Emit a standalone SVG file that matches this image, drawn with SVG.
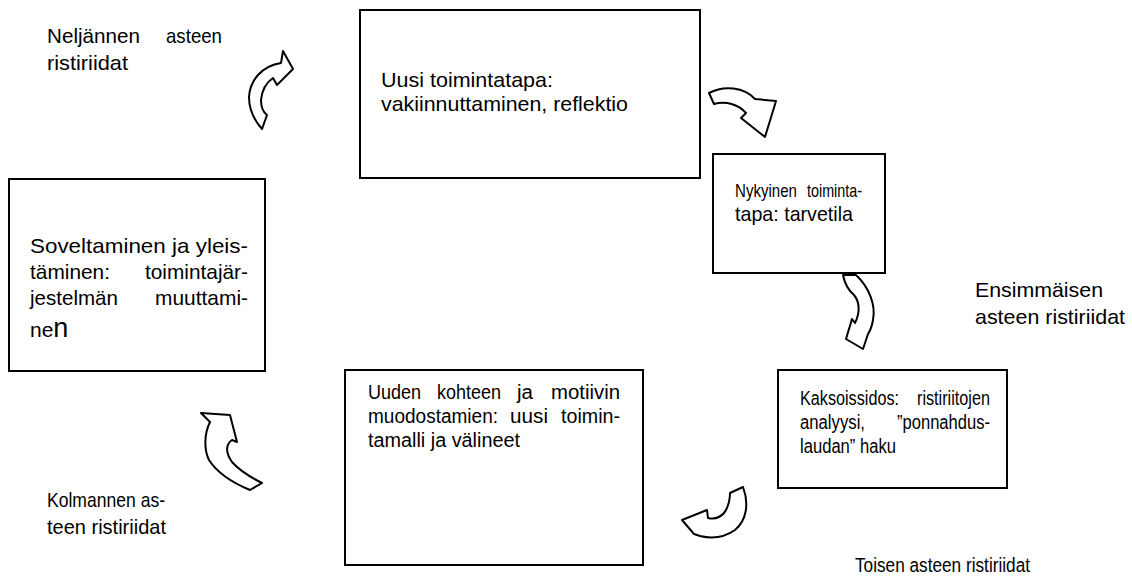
<svg xmlns="http://www.w3.org/2000/svg" width="1132" height="579" viewBox="0 0 1132 579">
  <style>
    .box { fill: #fff; stroke: #000; stroke-width: 2; }
    .arrow { fill: #fff; stroke: #000; stroke-width: 2; stroke-linejoin: round; }
    text { font-family: "Liberation Sans", Arial, sans-serif; font-size: 21px; fill: #000; }
    .sm { font-size: 20px; }
    .xs { font-size: 19px; }
  </style>
  <rect width="1132" height="579" fill="#fff"/>

  <!-- cycle steps; word runs of justified lines are placed one by one -->
  <g id="uusi-toimintatapa">
    <rect class="box" x="360" y="10" width="340" height="168"/>
    <text x="381" y="87" textLength="172" lengthAdjust="spacingAndGlyphs">Uusi toimintatapa:</text>
    <text x="381" y="111" textLength="247" lengthAdjust="spacingAndGlyphs">vakiinnuttaminen, reflektio</text>
  </g>

  <g id="nykyinen-toimintatapa">
    <rect class="box" x="713" y="154" width="172" height="119"/>
    <text class="xs" x="735" y="197" textLength="62" lengthAdjust="spacingAndGlyphs">Nykyinen</text>
    <text class="xs" x="807" y="197" textLength="55" lengthAdjust="spacingAndGlyphs">toiminta-</text>
    <text x="735" y="221" textLength="118" lengthAdjust="spacingAndGlyphs">tapa: tarvetila</text>
  </g>

  <g id="kaksoissidos">
    <rect class="box" x="778" y="370" width="229" height="118"/>
    <text class="sm" x="800" y="405" textLength="99" lengthAdjust="spacingAndGlyphs">Kaksoissidos:</text>
    <text class="sm" x="917" y="405" textLength="73" lengthAdjust="spacingAndGlyphs">ristiriitojen</text>
    <text class="sm" x="800" y="429" textLength="65" lengthAdjust="spacingAndGlyphs">analyysi,</text>
    <text class="sm" x="897" y="429" textLength="93" lengthAdjust="spacingAndGlyphs">”ponnahdus-</text>
    <text class="sm" x="800" y="453" textLength="96" lengthAdjust="spacingAndGlyphs">laudan” haku</text>
  </g>

  <g id="uuden-kohteen">
    <rect class="box" x="345" y="370" width="298" height="195"/>
    <text class="sm" x="368" y="399" textLength="53" lengthAdjust="spacingAndGlyphs">Uuden</text>
    <text class="sm" x="437" y="399" textLength="64" lengthAdjust="spacingAndGlyphs">kohteen</text>
    <text class="sm" x="517" y="399" textLength="16" lengthAdjust="spacingAndGlyphs">ja</text>
    <text class="sm" x="551" y="399" textLength="69" lengthAdjust="spacingAndGlyphs">motiivin</text>
    <text class="sm" x="368" y="423" textLength="130" lengthAdjust="spacingAndGlyphs">muodostamien:</text>
    <text class="sm" x="510" y="423" textLength="38" lengthAdjust="spacingAndGlyphs">uusi</text>
    <text class="sm" x="561" y="423" textLength="59" lengthAdjust="spacingAndGlyphs">toimin-</text>
    <text class="sm" x="368" y="447" textLength="152" lengthAdjust="spacingAndGlyphs">tamalli ja välineet</text>
  </g>

  <g id="soveltaminen">
    <rect class="box" x="9" y="179" width="256" height="192"/>
    <text x="30" y="253" textLength="218" lengthAdjust="spacingAndGlyphs">Soveltaminen ja yleis-</text>
    <text x="30" y="279" textLength="80" lengthAdjust="spacingAndGlyphs">täminen:</text>
    <text x="145" y="279" textLength="103" lengthAdjust="spacingAndGlyphs">toimintajär-</text>
    <text x="30" y="305" textLength="88" lengthAdjust="spacingAndGlyphs">jestelmän</text>
    <text x="155" y="305" textLength="93" lengthAdjust="spacingAndGlyphs">muuttami-</text>
    <text x="30" y="337">ne<tspan font-size="27">n</tspan></text>
  </g>

  <!-- curved block arrows between the steps, with their labels -->
  <g id="connectors">
    <path class="arrow" d="M283,51 L293,69 L277,85 L273,78 C267,82 262,90 261,100 C261,107 263,112 267,115 L262,129 C254,120 249,108 249,97 C250,80 262,66 281,63 Z"/>
    <path class="arrow" d="M709,93 C724,85 744,87 755,99 L776,101 L765,137 L741,118 L746,113 C738,104 726,101 714,104 Z"/>
    <path class="arrow" d="M843,275 L856,275 C869,287 876,305 873,320 C872,326 870,331 868,334 L863,349 L846,339 L852,319 L855,323 C860,313 860,302 854,295 C848,290 845,285 843,275 Z"/>
    <path class="arrow" d="M730,493 L743,487 C749,503 747,520 735,530 C725,537 712,539 700,536 L694,534 L682,520 L707,510 L708,518 C716,520 723,516 726,510 C729,504 730,499 730,493 Z"/>
    <path class="arrow" d="M230,415 L237,442 L232,440 C226,444 225,452 232,462 C240,471 250,477 262,483 L250,490 C233,483 218,474 209,460 C204,450 204,434 210,422 L201,413 Z"/>

    <text x="47" y="43" textLength="93" lengthAdjust="spacingAndGlyphs">Neljännen</text>
    <text x="166" y="43" textLength="56" lengthAdjust="spacingAndGlyphs">asteen</text>
    <text x="47" y="70" textLength="81" lengthAdjust="spacingAndGlyphs">ristiriidat</text>

    <text x="975" y="297" textLength="128" lengthAdjust="spacingAndGlyphs">Ensimmäisen</text>
    <text x="975" y="324" textLength="150" lengthAdjust="spacingAndGlyphs">asteen ristiriidat</text>

    <text class="sm" x="855" y="572" textLength="175" lengthAdjust="spacingAndGlyphs">Toisen asteen ristiriidat</text>

    <text x="47" y="507" textLength="118" lengthAdjust="spacingAndGlyphs">Kolmannen as-</text>
    <text x="47" y="534" textLength="119" lengthAdjust="spacingAndGlyphs">teen ristiriidat</text>
  </g>
</svg>
